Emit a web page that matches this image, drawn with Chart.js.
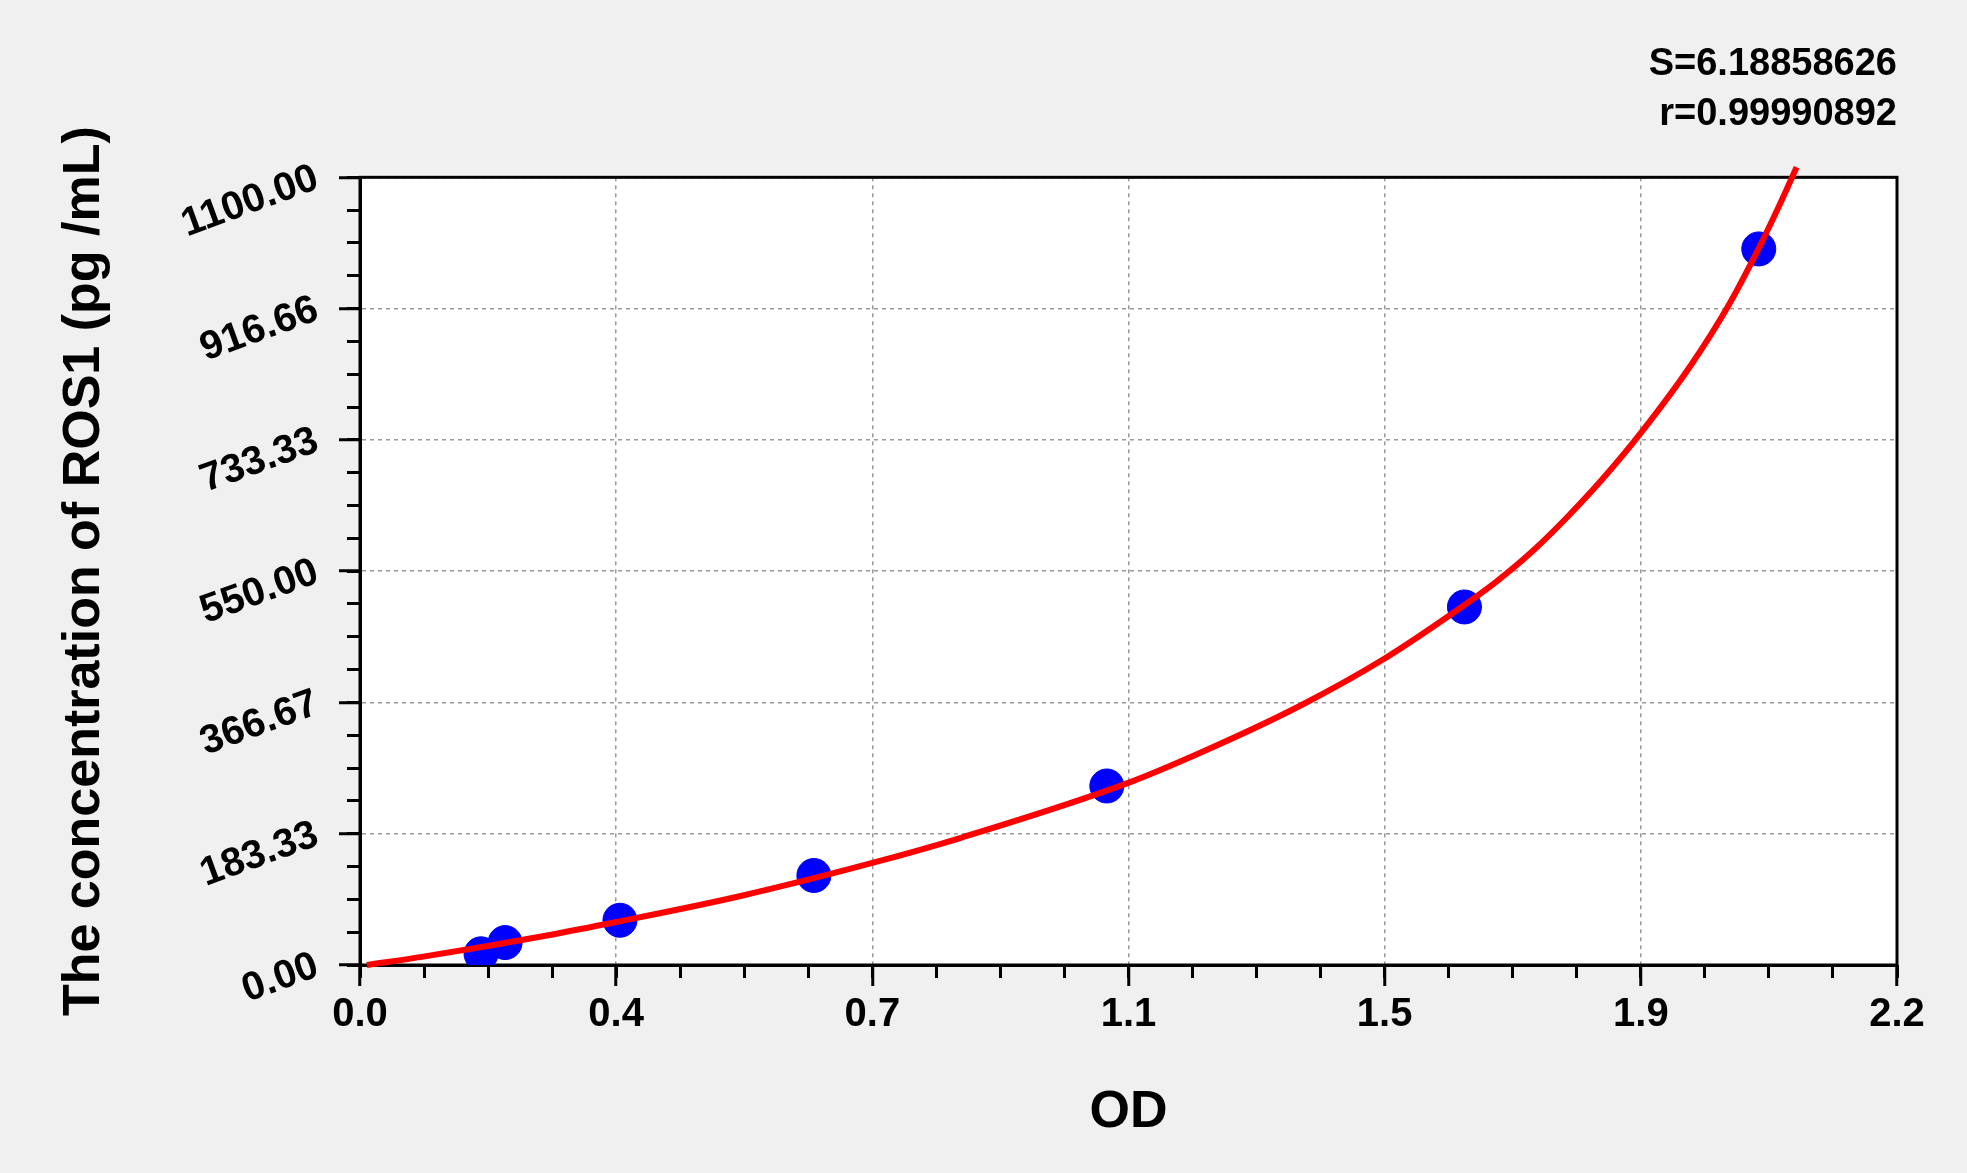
<!DOCTYPE html>
<html>
<head>
<meta charset="utf-8">
<script src="https://cdn.jsdelivr.net/npm/chart.js@4/dist/chart.umd.min.js"></script>
<style>
  html, body { margin: 0; padding: 0; background: #f0f0f0; }
  #wrap { width: 1967px; height: 1173px; }
</style>
</head>
<body>
<div id="wrap"><canvas id="curveChart" width="1967" height="1173"></canvas></div>
<script>
// standards (OD vs concentration)
const odValues = [0.176, 0.211, 0.378, 0.660, 1.086, 1.606, 2.034];
const concValues = [15.6, 31.3, 62.5, 125, 250, 500, 1000];

// fitted curve
const fitOd = [0.01, 0.092, 0.276, 0.3725, 0.552, 0.745, 0.875, 1.118, 1.235, 1.365, 1.490, 1.605, 1.652, 1.704, 1.756, 1.808, 1.8625, 1.936, 1.991, 2.034, 2.065, 2.089];
const fitConc = [0, 11.7, 42, 60, 96, 142.5, 178, 254.7, 302, 361, 428, 502, 535, 577, 626, 680, 743, 838.6, 922.7, 1001, 1063, 1114];

const xTickLabels = ["0.0", "0.4", "0.7", "1.1", "1.5", "1.9", "2.2"];
const yTickLabels = ["0.00", "183.33", "366.67", "550.00", "733.33", "916.66", "1100.00"];
const xMax = 2.235;
const yMax = 1100;
const statLines = ["S=6.18858626", "r=0.99990892"];

const FONT = 'Arial, "Liberation Sans", sans-serif';
const points = odValues.map((v, i) => ({ x: v, y: concValues[i] }));
const fitLine = fitOd.map((v, i) => ({ x: v, y: fitConc[i] }));

function evenTicks(max, n) {
  const t = [];
  for (let i = 0; i <= n; i++) t.push({ value: max * i / n });
  return t;
}

const framePlugin = {
  id: "frame",
  beforeDraw(chart) {
    const { ctx, chartArea: a } = chart;
    ctx.save();
    ctx.fillStyle = "#f0f0f0";
    ctx.fillRect(0, 0, chart.width, chart.height);
    ctx.fillStyle = "#ffffff";
    ctx.fillRect(a.left, a.top, a.right - a.left, a.bottom - a.top);
    ctx.restore();
  },
  beforeDatasetsDraw(chart) {
    const { ctx, chartArea: a } = chart;
    ctx.save();
    ctx.strokeStyle = "#000";
    ctx.lineWidth = 3;
    ctx.strokeRect(a.left, a.top, a.right - a.left, a.bottom - a.top);
    ctx.restore();
  }
};

new Chart(document.getElementById("curveChart"), {
  type: "scatter",
  data: {
    datasets: [
      {
        type: "line",
        data: fitLine,
        borderColor: "#ff0000",
        borderWidth: 6,
        pointRadius: 0,
        cubicInterpolationMode: "monotone",
        fill: false,
        clip: false
      },
      {
        data: points,
        backgroundColor: "#0000ff",
        borderColor: "#0000ff",
        pointRadius: 17,
        pointHoverRadius: 17
      }
    ]
  },
  options: {
    responsive: false,
    devicePixelRatio: 1,
    animation: false,
    layout: { padding: { top: 0, right: 70, bottom: 0, left: 0 } },
    plugins: {
      legend: { display: false },
      tooltip: { enabled: false },
      title: {
        display: true,
        text: statLines,
        align: "end",
        color: "#000",
        font: { family: FONT, size: 38, weight: "bold", lineHeight: 1.32 },
        padding: { top: 39, bottom: 38 }
      }
    },
    scales: {
      x: {
        type: "linear",
        min: 0,
        max: xMax,
        afterBuildTicks: s => { s.ticks = evenTicks(xMax, 6); },
        afterFit: s => { s.height = 208; },
        ticks: {
          autoSkip: false,
          maxRotation: 0,
          padding: 5,
          color: "#000",
          font: { family: FONT, size: 40, weight: "bold" },
          callback: (v, i) => xTickLabels[i]
        },
        grid: {
          color: "#9a9a9a",
          lineWidth: 1.5,
          tickLength: 21,
          tickWidth: 3,
          tickColor: "#000",
          tickBorderDash: []
        },
        border: { display: true, color: "#000", width: 3, dash: [4, 4] },
        title: {
          display: true,
          text: "OD",
          color: "#000",
          font: { family: FONT, size: 52, weight: "bold" },
          padding: { top: 0, bottom: 29 }
        }
      },
      y: {
        type: "linear",
        min: 0,
        max: yMax,
        afterBuildTicks: s => { s.ticks = evenTicks(yMax, 6); },
        afterFit: s => { s.width = 360; },
        ticks: {
          autoSkip: false,
          minRotation: 20,
          maxRotation: 20,
          padding: 22,
          color: "#000",
          font: { family: FONT, size: 40, weight: "bold" },
          callback: (v, i) => yTickLabels[i]
        },
        grid: {
          color: "#9a9a9a",
          lineWidth: 1.5,
          tickLength: 21,
          tickWidth: 3,
          tickColor: "#000",
          tickBorderDash: []
        },
        border: { display: true, color: "#000", width: 3, dash: [4, 4] },
        title: {
          display: true,
          text: "The concentration of ROS1 (pg /mL)",
          color: "#000",
          font: { family: FONT, size: 52, weight: "bold" },
          padding: { top: 53, bottom: 0 }
        }
      },
      xMinor: {
        type: "linear",
        position: { y: 0 },
        min: 0,
        max: xMax,
        afterBuildTicks: s => { s.ticks = evenTicks(xMax, 24); },
        ticks: { display: false, autoSkip: false },
        grid: { drawOnChartArea: false, tickLength: 13, tickWidth: 3, tickColor: "#000" },
        border: { display: false }
      },
      yMinor: {
        type: "linear",
        position: { x: 0 },
        min: 0,
        max: yMax,
        afterBuildTicks: s => { s.ticks = evenTicks(yMax, 24); },
        ticks: { display: false, autoSkip: false },
        grid: { drawOnChartArea: false, tickLength: 13, tickWidth: 3, tickColor: "#000" },
        border: { display: false }
      }
    }
  },
  plugins: [framePlugin]
});
</script>
</body>
</html>
